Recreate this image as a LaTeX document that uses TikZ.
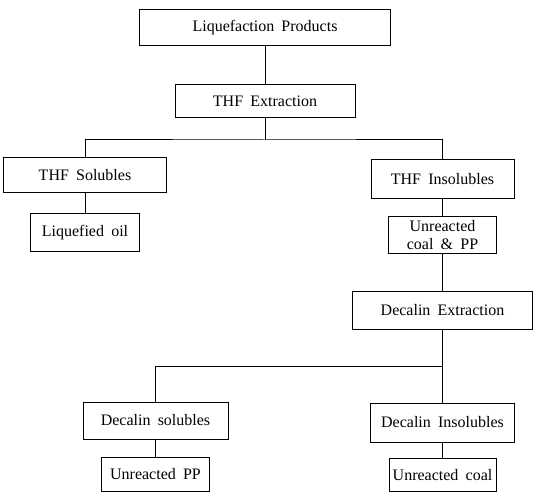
\documentclass[tikz,border=0pt]{standalone}
\usepackage{fontspec}
\setmainfont{Liberation Serif}[WordSpace=1.8]
\usepackage{tikz}
\tikzset{
  box/.style={
    draw,
    shape = rectangle,
    line width = 1pt,
    inner sep = 0pt,
    align = center,
    font = \fontsize{16}{17.5}\selectfont
  },
  link/.style={
    line width = 1pt
  }
}

\begin{document}
\begin{tikzpicture}[x=1pt, y=-1pt]
        \useasboundingbox (0,0) rectangle (533,492);
        % first extraction
        \node[box, minimum width=251, minimum height=36.5] (liq) at (265,27.75) {Liquefaction Products};
        \node[box, minimum width=180, minimum height=33] (thfext) at (265,101.5) {THF Extraction};
        \node[box, minimum width=163, minimum height=35.5] (thfsol) at (85,175) {THF Solubles};
        \node[box, minimum width=143, minimum height=38] (thfins) at (442.5,179) {THF Insolubles};
        \node[box, minimum width=109, minimum height=37.5] (oil) at (85,232.3) {Liquefied oil};
        \node[box, minimum width=107.5, minimum height=37.6] (unreac) at (442.5,234.8) {Unreacted\\coal \& PP};
        % second extraction
        \node[box, minimum width=179.6, minimum height=38] (decext) at (442.5,310) {Decalin Extraction};
        \node[box, minimum width=145, minimum height=37] (decsol) at (155.5,420.5) {Decalin solubles};
        \node[box, minimum width=143.6, minimum height=39] (decins) at (442.5,422.5) {Decalin Insolubles};
        \node[box, minimum width=108.5, minimum height=33.5] (unpp) at (155.5,474.5) {Unreacted PP};
        \node[box, minimum width=107, minimum height=33] (uncoal) at (442.5,475.3) {Unreacted coal};
        \coordinate (split1) at (265,140);
        \coordinate (split2) at (442.5,366);

        \draw[link] (liq) -- (thfext);
        \draw[link] (thfext) -- (split1);
        \draw[link] (thfsol.north) |- (split1) -| (thfins.north);
        \draw[link] (thfsol) -- (oil);
        \draw[link] (thfins) -- (unreac);
        \draw[link] (unreac) -- (decext);
        \draw[link] (decext) -- (decins);
        \draw[link] (split2) -| (decsol.north);
        \draw[link] (decsol) -- (unpp);
        \draw[link] (decins) -- (uncoal);
    \end{tikzpicture}
\end{document}
